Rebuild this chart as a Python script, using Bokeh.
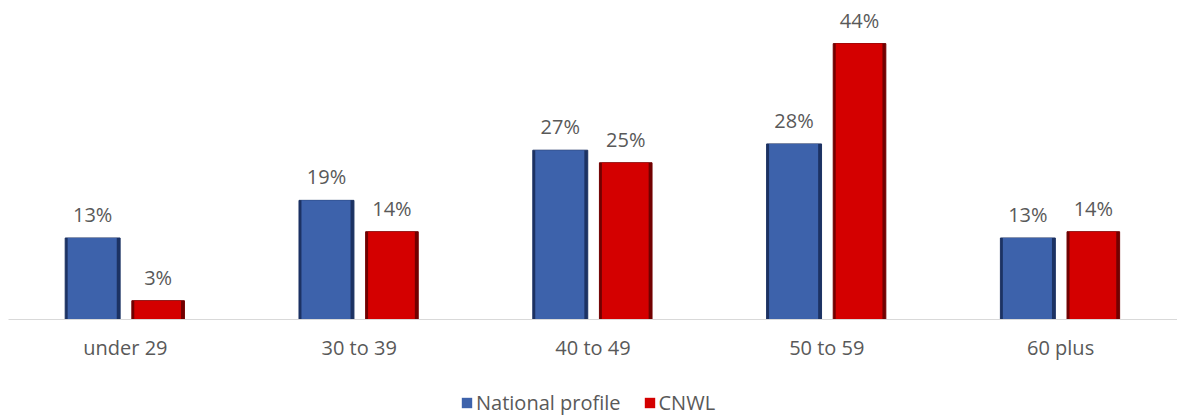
from bokeh.plotting import figure
from bokeh.models import ColumnDataSource, Range1d, Legend, LegendItem, LabelSet
from bokeh.layouts import column
from bokeh.core.properties import value
from bokeh.transform import dodge
from bokeh.embed import file_html
from bokeh.resources import INLINE

categories = ["under 29", "30 to 39", "40 to 49", "50 to 59", "60 plus"]
national = [13, 19, 27, 28, 13]
cnwl = [3, 14, 25, 44, 14]
series_names = ["National profile", "CNWL"]

src = ColumnDataSource(dict(
    cat=categories,
    nat=national,
    cn=cnwl,
    nat_lbl=[f"{v}%" for v in national],
    cn_lbl=[f"{v}%" for v in cnwl],
))

FONT = "Open Sans"
FS = "20px"
TXT = "#595959"
p = figure(x_range=categories, y_range=Range1d(0, 49.6), frame_width=1169, frame_height=311,
           output_backend="svg", toolbar_location=None,
           min_border_left=8, min_border_right=0, min_border_top=8, min_border_bottom=60)
p.outline_line_color = None
p.grid.grid_line_color = None
p.yaxis.visible = False
p.background_fill_color = "white"

blue_fill, blue_dark = "#3d62ab", "#1c3263"
red_fill, red_dark = "#d40000", "#720000"

# outer (edge) bars
p.vbar(x=dodge("cat", -0.14, range=p.x_range), top="nat", width=0.235, source=src,
       fill_color=blue_dark, line_color=blue_dark, line_width=1)
p.vbar(x=dodge("cat", 0.14, range=p.x_range), top="cn", width=0.225, source=src,
       fill_color=red_dark, line_color=red_dark, line_width=1)
# inner faces
p.vbar(x=dodge("cat", -0.142, range=p.x_range), top="nat", width=0.21, source=src,
       fill_color=blue_fill, line_color=None)
p.vbar(x=dodge("cat", 0.138, range=p.x_range), top="cn", width=0.20, source=src,
       fill_color=red_fill, line_color=None)

l1 = LabelSet(x=dodge("cat", -0.14, range=p.x_range), y="nat", text="nat_lbl", source=src,
              text_align="center", y_offset=10, text_font=value(FONT), text_font_size=value(FS),
              text_color=TXT)
l2 = LabelSet(x=dodge("cat", 0.14, range=p.x_range), y="cn", text="cn_lbl", source=src,
              text_align="center", y_offset=10, text_font=value(FONT), text_font_size=value(FS),
              text_color=TXT)
p.add_layout(l1)
p.add_layout(l2)

ax = p.xaxis[0]
ax.axis_line_color = "#d9d9d9"
ax.axis_line_width = 1
ax.major_tick_line_color = None
ax.minor_tick_line_color = None
ax.major_label_standoff = 8
ax.major_label_text_font = FONT
ax.major_label_text_font_size = FS
ax.major_label_text_color = TXT

# legend strip (its bars lie outside the strip's y range, only the legend shows)
lg = figure(width=1177, height=37, x_range=categories, y_range=Range1d(1000, 2000),
            output_backend="svg", toolbar_location=None,
            min_border_left=0, min_border_right=0, min_border_top=0, min_border_bottom=0)
lg.axis.visible = False
lg.grid.grid_line_color = None
lg.outline_line_color = None
g1 = lg.vbar(x="cat", top="nat", width=0.2, source=src, fill_color=blue_fill, line_color=None)
g2 = lg.vbar(x="cat", top="cn", width=0.2, source=src, fill_color=red_fill, line_color=None)
legend = Legend(items=[LegendItem(label=series_names[0], renderers=[g1]),
                       LegendItem(label=series_names[1], renderers=[g2])],
                orientation="horizontal", location=(452, 0),
                label_text_font=FONT, label_text_font_size=FS, label_text_color=TXT,
                glyph_width=13, glyph_height=13, spacing=22, label_standoff=3,
                border_line_color=None, background_fill_alpha=0, padding=0, margin=0)
lg.add_layout(legend, "center")

open("out.html", "w").write(file_html(column(p, lg), INLINE))
